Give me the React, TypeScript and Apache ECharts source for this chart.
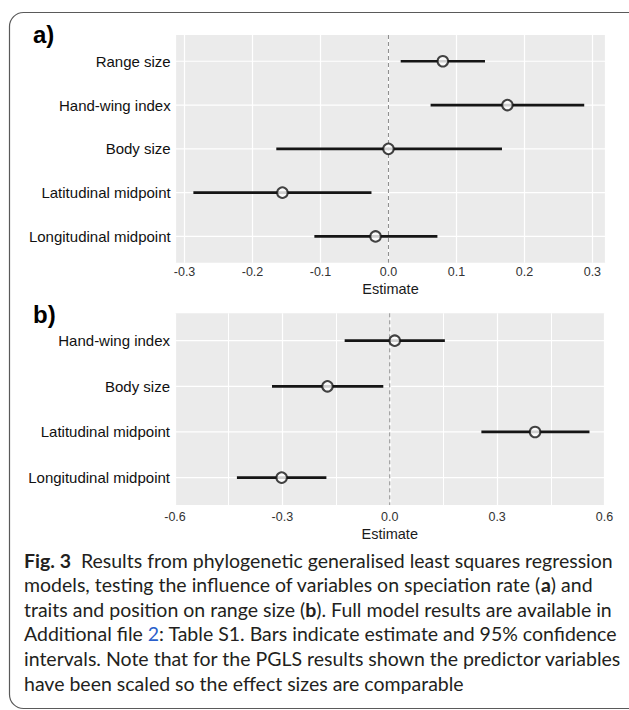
import React, { useEffect, useRef } from 'react';
import * as echarts from 'echarts';

// Panel a: speciation rate model
const catsA = ['Range size', 'Hand-wing index', 'Body size', 'Latitudinal midpoint', 'Longitudinal midpoint'];
const estA = [0.080, 0.175, 0.000, -0.156, -0.019];
const loA = [0.018, 0.062, -0.165, -0.287, -0.109];
const hiA = [0.142, 0.288, 0.167, -0.025, 0.072];

// Panel b: range size model
const catsB = ['Hand-wing index', 'Body size', 'Latitudinal midpoint', 'Longitudinal midpoint'];
const estB = [0.014, -0.174, 0.406, -0.302];
const loB = [-0.126, -0.329, 0.256, -0.427];
const hiB = [0.154, -0.018, 0.558, -0.177];

// axis extents / ticks
const xRangeA = [-0.313, 0.319];
const xTicksB = [-0.6, -0.3, 0, 0.3, 0.6];

const captionLines = [
  '{b|Fig. 3}  Results from phylogenetic generalised least squares regression',
  'models, testing the influence of variables on speciation rate ({b|a}) and',
  'traits and position on range size ({b|b}). Full model results are available in',
  'Additional file {l|2}: Table S1. Bars indicate estimate and 95% confidence',
  'intervals. Note that for the PGLS results shown the predictor variables',
  'have been scaled so the effect sizes are comparable',
];

const FONT = '"Liberation Sans", Arial, Helvetica, sans-serif';
const CAP_FONT = 'Lato, "Open Sans", sans-serif';
const CAP_SIZE = 19.5;

function fmt(v: number) {
  if (Math.abs(v) < 1e-9) return '0.0';
  return v.toFixed(1);
}

function catFormatter(cats: string[]) {
  return (v: number) => {
    const i = Math.round(v);
    if (Math.abs(v - i) < 1e-6 && i >= 0 && i < cats.length) return cats[i];
    return '';
  };
}

function panelSeries(idx: number, cats: string[], est: number[], lo: number[], hi: number[]) {
  const n = cats.length;
  return [
    {
      type: 'custom',
      xAxisIndex: idx,
      yAxisIndex: idx,
      silent: true,
      z: 1,
      data: cats.map((_, i) => [0, i]),
      encode: { x: 0, y: 1 },
      renderItem: (params: any, api: any) => {
        const y = api.coord([0, api.value(1)])[1];
        const cs = params.coordSys;
        return {
          type: 'line',
          shape: { x1: cs.x, y1: y, x2: cs.x + cs.width, y2: y },
          style: { stroke: '#ffffff', lineWidth: 1.2 },
        };
      },
    },
    {
      type: 'line',
      xAxisIndex: idx,
      yAxisIndex: idx,
      silent: true,
      z: 2,
      symbol: 'none',
      data: [[0, -0.6], [0, n - 1 + 0.6]],
      lineStyle: { color: '#8c8c8c', width: 1, type: [4, 3] },
    },
    {
      type: 'custom',
      xAxisIndex: idx,
      yAxisIndex: idx,
      silent: true,
      z: 3,
      data: lo.map((l, i) => [l, hi[i], i]),
      encode: { x: [0, 1], y: 2 },
      renderItem: (params: any, api: any) => {
        const p1 = api.coord([api.value(0), api.value(2)]);
        const p2 = api.coord([api.value(1), api.value(2)]);
        return {
          type: 'line',
          shape: { x1: p1[0], y1: p1[1], x2: p2[0], y2: p2[1] },
          style: { stroke: '#151515', lineWidth: 2.7 },
        };
      },
    },
    {
      type: 'scatter',
      xAxisIndex: idx,
      yAxisIndex: idx,
      silent: true,
      z: 4,
      symbol: 'circle',
      symbolSize: 10.5,
      data: est.map((v, i) => [v, i]),
      itemStyle: { color: '#ffffff', borderColor: '#151515', borderWidth: 2 },
    },
  ];
}

export default function App() {
  const ref = useRef<HTMLDivElement>(null);
  useEffect(() => {
    if (!ref.current) return;
    const chart = echarts.init(ref.current, null, { renderer: 'svg' });
    const yAxisCommon = {
      type: 'value',
      inverse: true,
      interval: 0.2,
      axisLine: { show: false },
      axisTick: { show: false },
      splitLine: { show: false },
    };
    const xAxisCommon = {
      type: 'value',
      axisLine: { show: false },
      axisTick: { show: false },
      name: 'Estimate',
      nameLocation: 'middle',
      nameTextStyle: { fontFamily: FONT, fontSize: 14.5, color: '#1a1a1a' },
      splitLine: { show: true, lineStyle: { color: '#ffffff', width: 1.2 } },
    };
    const option: any = {
      animation: false,
      backgroundColor: '#ffffff',
      grid: [
        { left: 175.7, top: 35, width: 429.6, height: 227.7, show: true, backgroundColor: '#ebebeb', borderWidth: 0 },
        { left: 175, top: 313.3, width: 429.5, height: 191.7, show: true, backgroundColor: '#ebebeb', borderWidth: 0 },
      ],
      xAxis: [
        {
          ...xAxisCommon,
          gridIndex: 0,
          min: xRangeA[0],
          max: xRangeA[1],
          splitNumber: 7,
          nameGap: 19,
          axisLabel: {
            showMinLabel: false,
            showMaxLabel: false,
            formatter: fmt,
            fontFamily: FONT,
            fontSize: 12.5,
            color: '#333333',
            margin: 3,
          },
        },
        {
          ...xAxisCommon,
          gridIndex: 1,
          min: xTicksB[0],
          max: xTicksB[xTicksB.length - 1],
          interval: 0.3,
          nameGap: 21,
          minorTick: { show: false, splitNumber: 2 },
          minorSplitLine: { show: true, lineStyle: { color: '#ffffff', width: 1 } },
          axisLabel: {
            formatter: fmt,
            fontFamily: FONT,
            fontSize: 12.5,
            color: '#333333',
            margin: 5,
          },
        },
      ],
      yAxis: [
        {
          ...yAxisCommon,
          gridIndex: 0,
          min: -0.6,
          max: catsA.length - 1 + 0.6,
          axisLabel: { formatter: catFormatter(catsA), fontFamily: FONT, fontSize: 15, color: '#111111', margin: 5 },
        },
        {
          ...yAxisCommon,
          gridIndex: 1,
          min: -0.6,
          max: catsB.length - 1 + 0.6,
          axisLabel: { formatter: catFormatter(catsB), fontFamily: FONT, fontSize: 15, color: '#111111', margin: 5 },
        },
      ],
      series: [
        ...panelSeries(0, catsA, estA, loA, hiA),
        ...panelSeries(1, catsB, estB, loB, hiB),
      ],
      graphic: [
        {
          type: 'rect',
          shape: { x: 9.5, y: 12.5, width: 700, height: 696, r: 14 },
          style: { fill: 'none', stroke: '#5a5a5a', lineWidth: 1.2 },
          silent: true,
        },
        {
          type: 'text',
          x: 33,
          y: 34,
          style: { text: 'a)', font: `bold 24px ${FONT}`, fill: '#000', textVerticalAlign: 'middle' },
        },
        {
          type: 'text',
          x: 33,
          y: 314,
          style: { text: 'b)', font: `bold 24px ${FONT}`, fill: '#000', textVerticalAlign: 'middle' },
        },
        ...captionLines.map((t, i) => ({
          type: 'text',
          x: 24,
          y: 560 + i * 24.6,
          style: {
            text: t,
            fontFamily: CAP_FONT,
            fontSize: CAP_SIZE,
            fill: '#231f20',
            textVerticalAlign: 'middle',
            rich: {
              b: { fontFamily: CAP_FONT, fontSize: CAP_SIZE, fontWeight: 'bold', fill: '#231f20' },
              l: { fontFamily: CAP_FONT, fontSize: CAP_SIZE, fill: '#2a5fcc' },
            },
          },
        })),
      ],
    };
    chart.setOption(option);
    return () => chart.dispose();
  }, []);
  return <div ref={ref} style={{ position: 'fixed', left: 0, top: 0, width: 629, height: 710 }} />;
}
